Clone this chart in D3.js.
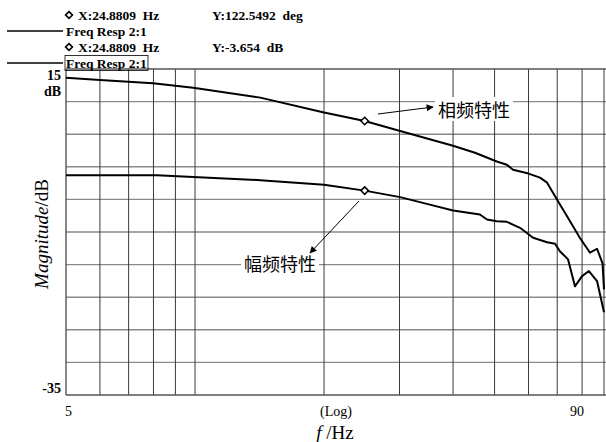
<!DOCTYPE html>
<html>
<head>
<meta charset="utf-8">
<script src="https://cdn.jsdelivr.net/npm/d3@7"></script>
<style>
  body { margin: 0; background: #fff; }
  text { font-family: "Liberation Serif", "DejaVu Serif", serif; }
</style>
</head>
<body>
<svg id="chart" width="606" height="442"></svg>
<script>
// magnitude curve (dB)
var magFreq = [5, 8.15, 9.9, 14.2, 20.0, 24.88, 30.1, 35.3, 40, 46.2, 48.0, 50.6, 53.4, 57.3, 61.5, 66.3, 69.2, 71.0, 74.2, 77.0, 80.0, 83.0, 86.7, 90];
var magDb = [-1.31, -1.31, -1.56, -2.05, -2.74, -3.654, -4.65, -5.8, -6.71, -7.32, -8.09, -8.35, -8.44, -9.36, -10.89, -11.56, -11.8, -12.94, -14.2, -18.33, -16.76, -15.99, -17.52, -22.31];

// phase curve (deg), drawn on a -180..180 scale over the same box
var phaseFreq = [5, 6.0, 7.98, 9.9, 14.2, 20.0, 24.88, 30.1, 40, 45, 50.6, 53.4, 55.2, 60, 63.8, 66.3, 69.9, 73.8, 79.1, 83.5, 86.7, 89.3, 90];
var phaseDeg = [170.4, 167.9, 164.3, 159.4, 148.4, 131.9, 122.55, 111.5, 95.2, 87.5, 77.9, 74.3, 68.8, 64.5, 60, 54.5, 35.8, 17.4, -6.6, -22.9, -18.5, -34.7, -63.3];

var xGrid = [6, 7, 8, 9, 10, 20, 30, 40, 50, 60, 70, 80, 90];
var yGrid = [-30, -25, -20, -15, -10, -5, 0, 5, 10];
var cursorFreq = 24.8809;
var cursorMag = -3.654;
var cursorPhase = 122.5492;

var svg = d3.select("#chart");

var x = d3.scaleLog().domain([5, 90]).range([66, 604]);
var y = d3.scaleLinear().domain([-35, 15]).range([395, 69]);
var yPhase = d3.scaleLinear().domain([-180, 180]).range([395, 69]);

// grid
svg.append("g")
    .selectAll("line")
    .data(yGrid)
    .join("line")
    .attr("x1", 66).attr("x2", 606)
    .attr("y1", d => y(d)).attr("y2", d => y(d))
    .attr("stroke", "#8a8a8a")
    .attr("stroke-width", 1.4);

svg.append("g")
    .selectAll("line")
    .data(xGrid)
    .join("line")
    .attr("x1", d => x(d)).attr("x2", d => x(d))
    .attr("y1", y(15)).attr("y2", y(-35))
    .attr("stroke", "#3a3a3a")
    .attr("stroke-width", 1);

// frame: top, bottom, left
svg.append("line").attr("x1", 66).attr("x2", 606).attr("y1", y(15)).attr("y2", y(15))
    .attr("stroke", "#555").attr("stroke-width", 1.4);
svg.append("line").attr("x1", 66).attr("x2", 606).attr("y1", y(-35)).attr("y2", y(-35))
    .attr("stroke", "#555").attr("stroke-width", 1.4);
svg.append("line").attr("x1", x(5)).attr("x2", x(5)).attr("y1", y(15)).attr("y2", y(-35))
    .attr("stroke", "#555").attr("stroke-width", 1.4);

// curves
var magLine = d3.line().x((d, i) => x(magFreq[i])).y(d => y(d));
var phaseLine = d3.line().x((d, i) => x(phaseFreq[i])).y(d => yPhase(d));

svg.append("path").datum(phaseDeg)
    .attr("d", phaseLine)
    .attr("fill", "none").attr("stroke", "#000").attr("stroke-width", 2)
    .attr("stroke-linejoin", "round");
svg.append("path").datum(magDb)
    .attr("d", magLine)
    .attr("fill", "none").attr("stroke", "#000").attr("stroke-width", 2)
    .attr("stroke-linejoin", "round");

// cursor diamonds
var diamond = d3.symbol().type(d3.symbolDiamond2).size(36);
[[cursorFreq, yPhase(cursorPhase)], [cursorFreq, y(cursorMag)]].forEach(p => {
    svg.append("path")
        .attr("d", diamond)
        .attr("transform", "translate(" + x(p[0]) + "," + p[1] + ")")
        .attr("fill", "#fff").attr("stroke", "#000").attr("stroke-width", 1.5);
});

// annotations
svg.append("defs").append("marker")
    .attr("id", "arr")
    .attr("viewBox", "0 0 10 10")
    .attr("refX", 9).attr("refY", 5)
    .attr("markerWidth", 10).attr("markerHeight", 7)
    .attr("markerUnits", "userSpaceOnUse")
    .attr("orient", "auto")
    .append("path").attr("d", "M0,0 L10,5 L0,10 z").attr("fill", "#000");

function label(txt, cx, cy) {
    var t = svg.append("text")
        .attr("x", cx).attr("y", cy)
        .attr("text-anchor", "middle")
        .attr("dominant-baseline", "central")
        .style("font-family", "'Noto Sans CJK SC', sans-serif")
        .style("font-size", "18px")
        .text(txt);
    var b = t.node().getBBox();
    svg.insert("rect", "text")
        .attr("x", b.x - 3).attr("y", b.y + 1)
        .attr("width", b.width + 6).attr("height", b.height - 2)
        .attr("fill", "#fff");
    t.raise();
}

svg.append("line")
    .attr("x1", 378).attr("y1", 114).attr("x2", 433).attr("y2", 107)
    .attr("stroke", "#000").attr("stroke-width", 1)
    .attr("marker-end", "url(#arr)");
label("相频特性", 474, 109);

svg.append("line")
    .attr("x1", 359).attr("y1", 201).attr("x2", 310).attr("y2", 253)
    .attr("stroke", "#000").attr("stroke-width", 1)
    .attr("marker-end", "url(#arr)");
label("幅频特性", 280, 263);

// y labels
var yLab = svg.append("g").style("font-weight", "bold").style("font-size", "14px")
    .attr("text-anchor", "end");
yLab.append("text").attr("x", 61).attr("y", y(15) + 11).text("15");
yLab.append("text").attr("x", 61).attr("y", y(15) + 27).text("dB");
yLab.append("text").attr("x", 61).attr("y", y(-35) - 2).text("-35");

// x labels
var xLab = svg.append("g").style("font-size", "14px");
xLab.append("text").attr("x", x(5) - 1).attr("y", 416).text("5");
xLab.append("text").attr("x", 336).attr("y", 416).attr("text-anchor", "middle").text("(Log)");
xLab.append("text").attr("x", x(90) - 27).attr("y", 416).attr("text-anchor", "middle").text("90");

// axis titles
var xt = svg.append("text").attr("x", 335).attr("y", 439).attr("text-anchor", "middle")
    .style("font-size", "19px");
xt.append("tspan").style("font-style", "italic").text("f");
xt.append("tspan").text(" /Hz");

var yt = svg.append("text")
    .attr("transform", "translate(48,234) rotate(-90)")
    .attr("text-anchor", "middle")
    .style("font-size", "19px");
yt.append("tspan").style("font-style", "italic").text("Magnitude");
yt.append("tspan").text("/dB");

// cursor readout header
var head = svg.append("g").style("font-weight", "bold").style("font-size", "13.5px");
var rows = [
    ["X:24.8809  Hz", "Y:122.5492  deg"],
    ["X:24.8809  Hz", "Y:-3.654  dB"]
];
rows.forEach((r, i) => {
    var top = 15 + i * 32;
    head.append("path").attr("d", d3.symbol().type(d3.symbolDiamond2).size(30))
        .attr("transform", "translate(69," + top + ")")
        .attr("fill", "none").attr("stroke", "#000").attr("stroke-width", 1.6);
    head.append("text").attr("x", 78).attr("y", top + 4.5)
        .attr("xml:space", "preserve").text(r[0]);
    head.append("text").attr("x", 212).attr("y", top + 4.5)
        .attr("xml:space", "preserve").text(r[1]);
    head.append("line").attr("x1", 7).attr("x2", 63).attr("y1", top + 16).attr("y2", top + 16)
        .attr("stroke", "#000").attr("stroke-width", 1.5);
    var ft = head.append("text").attr("x", 66).attr("y", top + 20.5).text("Freq Resp 2:1");
    if (i === 1) {
        var b = ft.node().getBBox();
        head.append("rect").attr("x", b.x - 1).attr("y", b.y).attr("width", b.width + 2)
            .attr("height", b.height).attr("fill", "none").attr("stroke", "#000").attr("stroke-width", 0.8);
    }
});
</script>
</body>
</html>
